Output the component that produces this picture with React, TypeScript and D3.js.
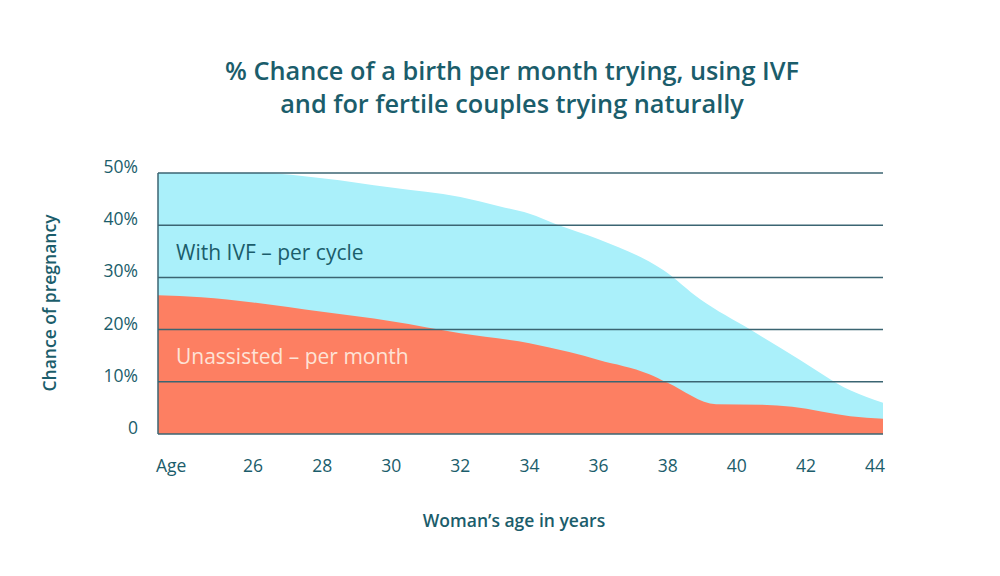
import React from "react";
import * as d3 from "d3";

const ivfAges = [23.25, 26.2, 28, 30, 32, 33.15, 34, 34.77, 36, 37.87, 38.94, 40.39, 41.83, 43.28, 44.23];
const ivfValues = [50, 50, 49, 47.2, 45.4, 43.6, 42.2, 40.2, 37.3, 31.4, 25.8, 20, 14.2, 8.4, 6];

const natAges = [23.25, 24.5, 26, 28, 30, 32, 34, 35.15, 36, 37.45, 38, 39.4, 40.7, 41.6, 43.28, 44.23];
const natValues = [26.6, 26.2, 25.2, 23.4, 21.6, 19.3, 17.4, 15.7, 14.2, 11.5, 9.8, 5.7, 5.6, 5.2, 3.4, 2.9];

const xTicks = [26, 28, 30, 32, 34, 36, 38, 40, 42, 44];
const yTicks = [0, 10, 20, 30, 40, 50];
const yTickLabels = ["0", "10%", "20%", "30%", "40%", "50%"];

const FONT = "'Open Sans', Lato, sans-serif";
const TEXT = "#1b5d6b";

export default function App() {
  const W = 1000, H = 576;
  const x = d3.scaleLinear().domain([23.25, 44.23]).range([158, 883]);
  const y = d3.scaleLinear().domain([0, 50]).range([434, 173]);

  const area = d3
    .area<[number, number]>()
    .x((d) => x(d[0]))
    .y0(y(0))
    .y1((d) => y(d[1]))
    .curve(d3.curveMonotoneX);

  const ivf = ivfAges.map((a, i) => [a, ivfValues[i]] as [number, number]);
  const nat = natAges.map((a, i) => [a, natValues[i]] as [number, number]);

  return (
    <svg width={W} height={H} style={{ position: "absolute", left: 0, top: 0, background: "#fff" }} fontFamily={FONT}>
      <rect width={W} height={H} fill="#fff" />
      <text x={512} y={80} textAnchor="middle" fontSize={25.3} fontWeight={600} fill={TEXT}>
        % Chance of a birth per month trying, using IVF
      </text>
      <text x={512} y={113} textAnchor="middle" fontSize={25.3} fontWeight={600} fill={TEXT}>
        and for fertile couples trying naturally
      </text>

      <path d={area(ivf) || ""} fill="#aaf0fa" />
      <path d={area(nat) || ""} fill="#fd7f62" />

      {yTicks.map((t) => (
        <line key={t} x1={158} x2={883} y1={y(t)} y2={y(t)} stroke="#3b6572" strokeWidth={1.5} />
      ))}
      <line x1={158} x2={158} y1={y(50)} y2={y(0)} stroke="#3b6572" strokeWidth={1.5} />

      {yTicks.map((t, i) => (
        <text key={t} x={138} y={y(t)} textAnchor="end" fontSize={17.5} fill={TEXT}>
          {yTickLabels[i]}
        </text>
      ))}

      <text x={156} y={472} textAnchor="start" fontSize={17.5} fill={TEXT}>Age</text>
      {xTicks.map((t) => (
        <text key={t} x={x(t)} y={472} textAnchor="middle" fontSize={17.5} fill={TEXT}>
          {t}
        </text>
      ))}

      <text x={176} y={260} fontSize={21} fill={TEXT}>With IVF – per cycle</text>
      <text x={176} y={364} fontSize={21} fill="#fde3d6">Unassisted – per month</text>

      <text x={514} y={527} textAnchor="middle" fontSize={17.5} fontWeight={600} fill={TEXT}>
        Woman’s age in years
      </text>
      <text
        transform="translate(56,303) rotate(-90)"
        textAnchor="middle"
        fontSize={17.5}
        fontWeight={600}
        fill={TEXT}
      >
        Chance of pregnancy
      </text>
    </svg>
  );
}
